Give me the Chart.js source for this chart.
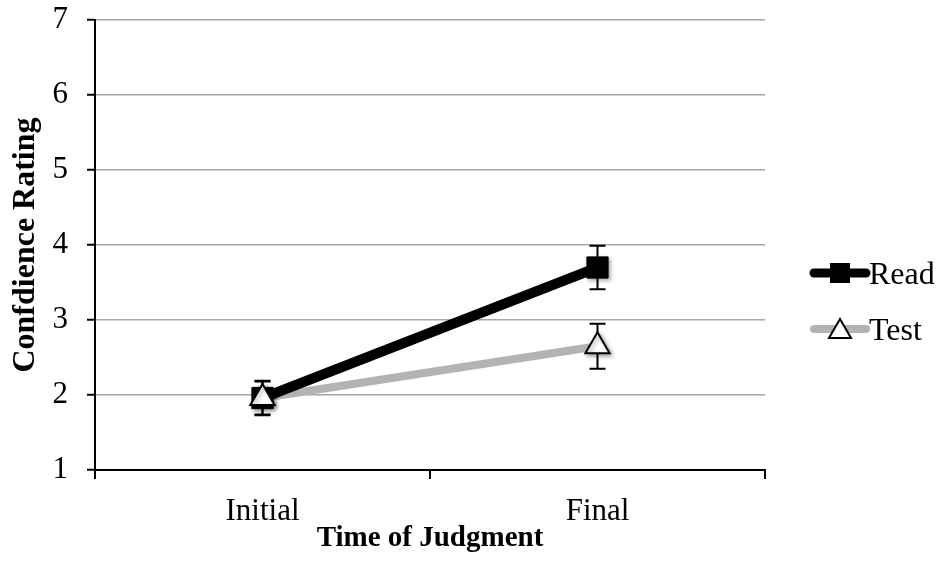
<!DOCTYPE html>
<html>
<head>
<meta charset="utf-8">
<script src="https://cdn.jsdelivr.net/npm/chart.js@4"></script>
<style>
  html, body { margin: 0; padding: 0; background: #fff; }
  #wrap { width: 938px; height: 573px; position: relative; }
</style>
</head>
<body>
<div id="wrap"><canvas id="confChart"></canvas></div>
<script>
// Valeurs
const categories = ['Initial', 'Final'];
const readValues = [1.96, 3.70];
const testValues = [1.96, 2.65];
const readErrors = [0.23, 0.29];
const testErrors = [0.22, 0.30];
const yTicks = [1, 2, 3, 4, 5, 6, 7];

const FONT = '"Liberation Serif", "Times New Roman", serif';
const GRAY_LINE = '#b3b3b3';
const GRID = '#a6a6a6';

// barres d'erreur, dessinées sous les marqueurs
const errorBars = {
    id: 'errorBars',
    beforeDatasetsDraw(chart) {
        const ctx = chart.ctx;
        const x = chart.scales.x, y = chart.scales.y;
        const sets = [[readValues, readErrors], [testValues, testErrors]];
        ctx.save();
        ctx.strokeStyle = '#000';
        ctx.lineWidth = 2;
        sets.forEach(function(s) {
            s[0].forEach(function(v, i) {
                const px = x.getPixelForValue(i);
                const top = y.getPixelForValue(v + s[1][i]);
                const bot = y.getPixelForValue(v - s[1][i]);
                ctx.beginPath();
                ctx.moveTo(px, top); ctx.lineTo(px, bot);
                ctx.moveTo(px - 8, top); ctx.lineTo(px + 8, top);
                ctx.moveTo(px - 8, bot); ctx.lineTo(px + 8, bot);
                ctx.stroke();
            });
        });
        ctx.restore();
    }
};

// petite ombre sous les marqueurs
const markerShadow = {
    id: 'markerShadow',
    beforeDatasetDraw(chart, args) {
        if (!chart.data.datasets[args.index].isMarker) return;
        const ctx = chart.ctx;
        ctx.save();
        ctx.shadowColor = 'rgba(0,0,0,0.35)';
        ctx.shadowBlur = 4;
        ctx.shadowOffsetX = 2;
        ctx.shadowOffsetY = 2;
    },
    afterDatasetDraw(chart, args) {
        if (!chart.data.datasets[args.index].isMarker) return;
        chart.ctx.restore();
    }
};

// légende façon Excel : trait + marqueur
const excelLegend = {
    id: 'excelLegend',
    afterDraw(chart) {
        const ctx = chart.ctx;
        const x0 = chart.chartArea.right + 45;
        const rows = [
            { text: 'Read', color: '#000', width: 9, y: 273, marker: 'rect' },
            { text: 'Test', color: GRAY_LINE, width: 8, y: 329, marker: 'triangle' }
        ];
        ctx.save();
        rows.forEach(function(r) {
            ctx.strokeStyle = r.color;
            ctx.lineWidth = r.width;
            ctx.lineCap = 'round';
            ctx.beginPath();
            ctx.moveTo(x0 + 4, r.y);
            ctx.lineTo(x0 + 56, r.y);
            ctx.stroke();
            ctx.lineCap = 'butt';
            const cx = x0 + 30;
            if (r.marker === 'rect') {
                ctx.fillStyle = '#000';
                ctx.fillRect(cx - 10, r.y - 10, 20, 20);
            } else {
                ctx.fillStyle = '#fff';
                ctx.strokeStyle = '#000';
                ctx.lineWidth = 2;
                ctx.beginPath();
                ctx.moveTo(cx, r.y - 10);
                ctx.lineTo(cx + 11, r.y + 9);
                ctx.lineTo(cx - 11, r.y + 9);
                ctx.closePath();
                ctx.fill();
                ctx.stroke();
            }
            ctx.fillStyle = '#000';
            ctx.font = '32px ' + FONT;
            ctx.textBaseline = 'middle';
            ctx.textAlign = 'left';
            ctx.fillText(r.text, x0 + 59, r.y + 3);
        });
        ctx.restore();
    }
};

new Chart(document.getElementById('confChart').getContext('2d'), {
    type: 'line',
    data: {
        labels: categories,
        datasets: [
            {
                label: 'Test',
                isMarker: true,
                data: testValues,
                showLine: false,
                pointStyle: 'triangle',
                pointRadius: 14,
                pointBackgroundColor: '#fff',
                pointBorderColor: '#000',
                pointBorderWidth: 2,
                order: 0
            },
            {
                label: 'Read',
                isMarker: true,
                data: readValues,
                showLine: false,
                pointStyle: 'rect',
                pointRadius: 15,
                pointBackgroundColor: '#000',
                pointBorderColor: '#000',
                pointBorderWidth: 1,
                order: 1
            },
            {
                label: 'Read line',
                data: readValues,
                borderColor: '#000',
                borderWidth: 10,
                pointRadius: 0,
                tension: 0,
                order: 2
            },
            {
                label: 'Test line',
                data: testValues,
                borderColor: GRAY_LINE,
                borderWidth: 8,
                pointRadius: 0,
                tension: 0,
                order: 3
            }
        ]
    },
    options: {
        responsive: true,
        maintainAspectRatio: false,
        animation: false,
        layout: { padding: { top: 20, right: 173, left: 0, bottom: 0 } },
        scales: {
            x: {
                offset: true,
                afterFit: function(s) { s.height = 103; },
                grid: {
                    offset: true,
                    drawOnChartArea: false,
                    tickLength: 9,
                    color: '#000',
                    lineWidth: 2
                },
                border: { color: '#000', width: 2 },
                ticks: {
                    color: '#000',
                    padding: 14,
                    font: { family: FONT, size: 31 }
                },
                title: {
                    display: true,
                    text: 'Time of Judgment',
                    color: '#000',
                    padding: { bottom: 17 },
                    font: { family: FONT, size: 29, weight: 'bold' }
                }
            },
            y: {
                min: 1,
                max: 7,
                afterFit: function(s) { s.width = 95; s.paddingTop = 0; s.paddingBottom = 0; },
                afterBuildTicks: function(s) { s.ticks = yTicks.map(function(v) { return { value: v }; }); },
                grid: {
                    color: function(c) { return c.tick && c.tick.value === 1 ? '#000' : GRID; },
                    lineWidth: 1.5,
                    tickLength: 8,
                    tickColor: '#000',
                    tickWidth: 2
                },
                border: { color: '#000', width: 2 },
                ticks: {
                    color: '#000',
                    padding: 19,
                    font: { family: FONT, size: 31 }
                },
                title: {
                    display: true,
                    text: 'Confdience Rating',
                    color: '#000',
                    padding: { top: 7 },
                    font: { family: FONT, size: 32, weight: 'bold' }
                }
            }
        },
        plugins: {
            legend: { display: false },
            tooltip: { enabled: false }
        }
    },
    plugins: [errorBars, markerShadow, excelLegend]
});
</script>
</body>
</html>
